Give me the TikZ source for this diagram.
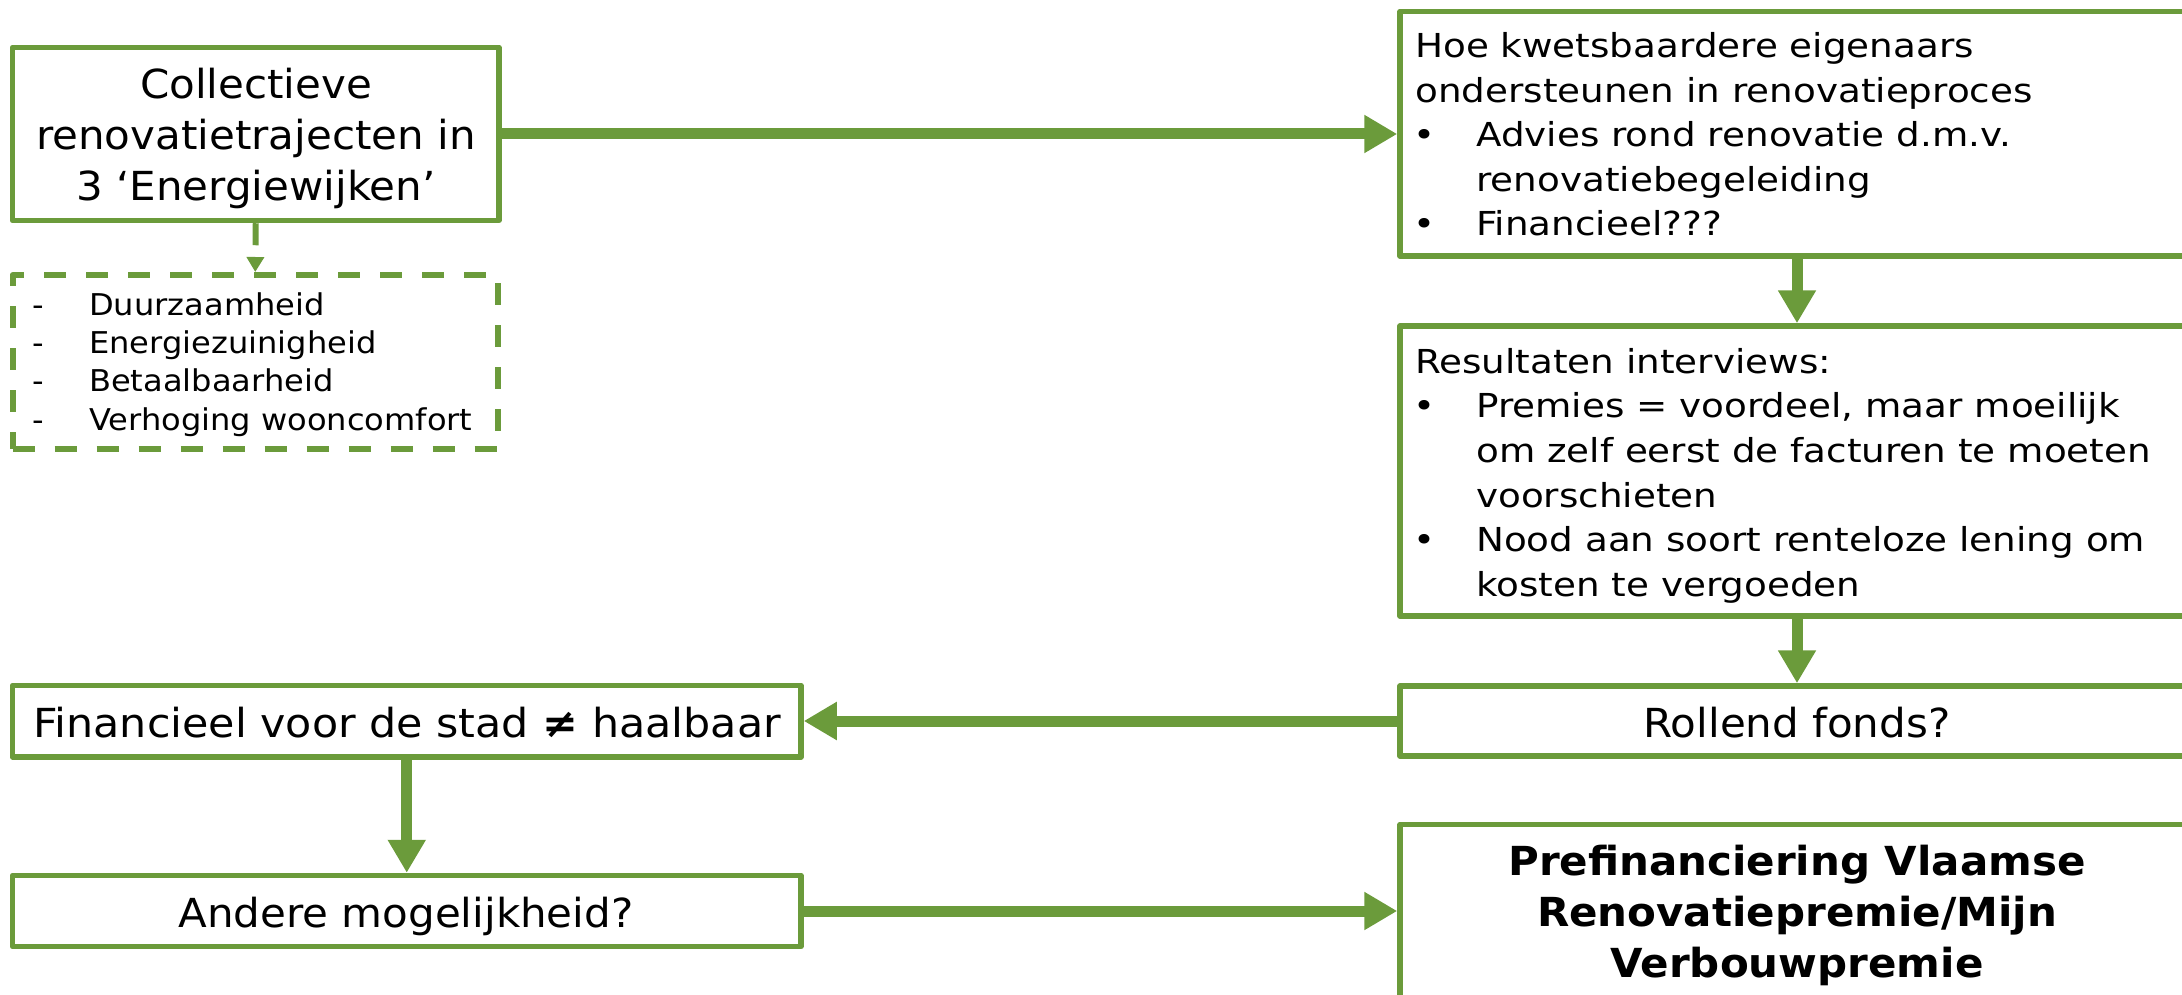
\documentclass[tikz,border=0pt]{standalone}
\usepackage{fontspec}
\setmainfont{DejaVu Sans}[FakeStretch=1.05]
\newfontfamily\midfont{DejaVu Sans}[FakeStretch=1.07]
\newfontfamily\widefont{DejaVu Sans}[FakeStretch=1.13]
\usetikzlibrary{arrows.meta}
\definecolor{grn}{RGB}{107,155,59}
\newcommand\fsz[2]{\fontsize{#1}{#2}\selectfont}
\newcommand\bul{\makebox[61pt][l]{\hspace*{-2pt}•}}
\newcommand\ind{\hspace*{61pt}}
\newcommand\dsh{\makebox[56.5pt][l]{-}}
\begin{document}
\begin{tikzpicture}[x=1pt,y=-1pt,
  box/.style={draw=grn,line width=5.5pt,rectangle,inner sep=0pt,line join=round},
  dbox/.style={box,line width=6pt,dash pattern=on 22pt off 20pt},
  txt/.style={inner sep=0pt,align=left,anchor=north west},
  ctxt/.style={inner sep=0pt,align=center,anchor=north},
  btxt/.style={inner sep=0pt,anchor=base},
  flow/.style={draw=grn,line width=11pt,-{Triangle[length=33pt,width=36pt]}},
  dflow/.style={draw=grn,line width=6pt,dash pattern=on 22pt off 20pt,-{Triangle[length=15pt,width=17pt]}}]
\useasboundingbox (0,0) rectangle (2182,995);
\clip (0,0) rectangle (2182,995);
% boxes
\node[box,minimum width=486.5pt,minimum height=173pt] (b1) at (255.75,134) {};
\node[dbox,minimum width=485.5pt,minimum height=174pt] (dl) at (255.25,362) {};
\node[box,minimum width=794pt,minimum height=244.5pt] (hoe) at (1797,133.75) {};
\node[box,minimum width=794pt,minimum height=290pt] (res) at (1797,471) {};
\node[box,minimum width=794pt,minimum height=70pt] (rol) at (1797,721) {};
\node[box,minimum width=788.5pt,minimum height=71.5pt] (fin) at (406.75,721.25) {};
\node[box,minimum width=788.5pt,minimum height=71pt] (andr) at (406.75,911) {};
\node[box,minimum width=794pt,minimum height=182.5pt] (pre) at (1797,915.75) {};
% texts
\node[ctxt,font=\fsz{40}{51}] (tb1) at (256,62.6)
  {\strut Collectieve\\renovatietrajecten in\\3 ‘Energiewijken’};
\node[txt,font=\midfont\fsz{30}{38.3}] (tdl) at (32.5,288.2)
  {\strut\dsh Duurzaamheid\\\dsh Energiezuinigheid\\\dsh Betaalbaarheid\\\dsh Verhoging wooncomfort};
\node[txt,font=\widefont\fsz{33}{44.6}] (thoe) at (1415,26.1)
  {\strut Hoe kwetsbaardere eigenaars\\ondersteunen in renovatieproces\\\bul Advies rond renovatie d.m.v.\\\ind renovatiebegeleiding\\\bul Financieel???};
\node[txt,font=\widefont\fsz{33}{44.6}] (tres) at (1415,341.8)
  {\strut Resultaten interviews:\\\bul Premies = voordeel, maar moeilijk\\\ind om zelf eerst de facturen te moeten\\\ind voorschieten\\\bul Nood aan soort renteloze lening om\\\ind kosten te vergoeden};
\node[btxt,font=\fsz{40}{51}] (trol) at (1797,737) {Rollend fonds?};
\node[btxt,font=\midfont\fsz{40}{51}] (tfin) at (407,737) {Financieel voor de stad {\bfseries ≠} haalbaar};
\node[btxt,font=\fsz{40}{51}] (tand) at (406,927) {Andere mogelijkheid?};
\node[ctxt,font=\bfseries\fsz{40}{51}] (tpre) at (1797,839.3)
  {\strut Prefinanciering Vlaamse\\Renovatiepremie/Mijn\\Verbouwpremie};
% connectors
\draw[flow] (b1.east) -- (b1.east -| hoe.west);
\draw[flow] (hoe.south) -- (res.north);
\draw[flow] (res.south) -- (rol.north);
\draw[flow] (rol.west) -- (rol.west -| fin.east);
\draw[flow] (fin.south) -- (andr.north);
\draw[flow] (andr.east) -- (andr.east -| pre.west);
\draw[dflow] (b1.south) -- (dl.north);
\end{tikzpicture}
\end{document}
